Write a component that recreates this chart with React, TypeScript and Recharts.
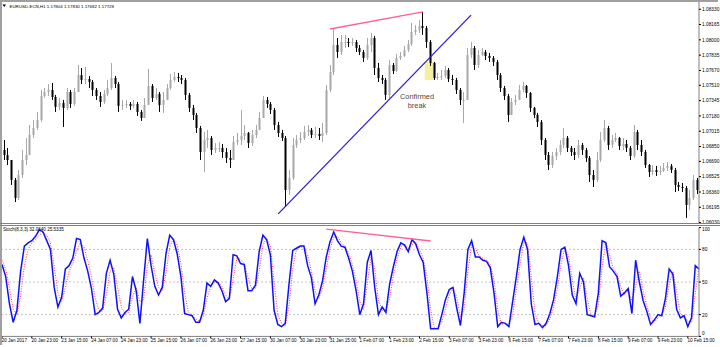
import React from 'react';
import { ComposedChart, Bar, Line, XAxis, YAxis, ReferenceLine, ReferenceArea } from 'recharts';

// EURUSD H1 chart, aggregated to 2-hour bars
const openPrice = [
  1.06813,1.06759,1.06705,1.06490,1.06296,1.06544,1.06705,1.06759,1.06975,1.07050,
  1.07136,1.07395,1.07438,1.07460,1.07384,1.07277,1.07320,1.07266,1.07438,1.07309,
  1.07438,1.07621,1.07568,1.07578,1.07546,1.07460,1.07395,1.07330,1.07417,1.07481,
  1.07589,1.07524,1.07287,1.07298,1.07309,1.07287,1.07309,1.07223,1.07158,1.07298,
  1.07503,1.07374,1.07417,1.07298,1.07352,1.07481,1.07568,1.07600,1.07589,1.07568,
  1.07406,1.07266,1.07190,1.07050,1.06791,1.06921,1.06942,1.06813,1.06835,1.06835,
  1.06791,1.06727,1.06705,1.06899,1.06921,1.06964,1.06996,1.06888,1.06975,1.07029,
  1.07158,1.07352,1.07309,1.07244,1.07082,1.06996,1.06942,1.06382,1.06511,1.06867,
  1.06921,1.06942,1.07007,1.07029,1.06975,1.06986,1.06964,1.06996,1.07460,1.07654,
  1.07945,1.07869,1.07977,1.07977,1.07966,1.07977,1.07913,1.07869,1.07805,1.07945,
  1.08020,1.07697,1.07589,1.07568,1.07406,1.07729,1.07665,1.07805,1.07826,1.07891,
  1.07956,1.08085,1.08107,1.08150,1.08128,1.07977,1.07751,1.07589,1.07600,1.07611,
  1.07675,1.07578,1.07568,1.07460,1.07352,1.07352,1.07837,1.07913,1.07729,1.07837,
  1.07869,1.07826,1.07805,1.07762,1.07621,1.07481,1.07395,1.07190,1.07330,1.07352,
  1.07460,1.07503,1.07427,1.07266,1.07190,1.07115,1.06921,1.06759,1.06651,1.06748,
  1.06791,1.06867,1.06942,1.06835,1.06791,1.06759,1.06867,1.06813,1.06727,1.06543,
  1.06490,1.06705,1.06921,1.07050,1.06867,1.06921,1.06942,1.06856,1.06878,1.06835,
  1.06748,1.07007,1.06867,1.06791,1.06651,1.06576,1.06597,1.06576,1.06587,1.06619,
  1.06641,1.06597,1.06436,1.06414,1.06403,1.06220,1.06296,1.06490,
];
const highPrice = [
  1.06921,1.06835,1.06705,1.06511,1.06597,1.06813,1.06942,1.07082,1.07136,1.07223,
  1.07460,1.07481,1.07524,1.07535,1.07406,1.07374,1.07352,1.07481,1.07460,1.07481,
  1.07729,1.07697,1.07708,1.07611,1.07568,1.07481,1.07438,1.07460,1.07568,1.07751,
  1.07611,1.07546,1.07352,1.07352,1.07330,1.07352,1.07330,1.07244,1.07374,1.07686,
  1.07524,1.07481,1.07438,1.07438,1.07524,1.07632,1.07654,1.07643,1.07621,1.07589,
  1.07427,1.07298,1.07212,1.07072,1.07007,1.07029,1.06964,1.06888,1.06899,1.06878,
  1.06835,1.06813,1.06964,1.06996,1.07244,1.07082,1.07007,1.07029,1.07082,1.07223,
  1.07395,1.07384,1.07330,1.07266,1.07115,1.07029,1.06964,1.06597,1.06942,1.06975,
  1.07007,1.07072,1.07082,1.07050,1.07061,1.07050,1.07104,1.07514,1.07729,1.08117,
  1.08020,1.08053,1.08053,1.08020,1.08020,1.07999,1.07945,1.07891,1.08020,1.08074,
  1.08042,1.07751,1.07621,1.07589,1.07783,1.07751,1.07848,1.07869,1.07934,1.07999,
  1.08182,1.08160,1.08214,1.08301,1.08150,1.07999,1.07762,1.07643,1.07675,1.07719,
  1.07697,1.07621,1.07589,1.07481,1.07438,1.07913,1.07977,1.07934,1.07891,1.07913,
  1.07891,1.07859,1.07826,1.07783,1.07643,1.07503,1.07417,1.07374,1.07406,1.07514,
  1.07546,1.07514,1.07438,1.07277,1.07212,1.07136,1.06942,1.06791,1.06791,1.06835,
  1.06921,1.07050,1.06964,1.06856,1.06835,1.06921,1.06888,1.06835,1.06748,1.06597,
  1.06791,1.07007,1.07136,1.07072,1.06975,1.06996,1.06953,1.06942,1.06921,1.06856,
  1.07082,1.07029,1.06921,1.06813,1.06662,1.06651,1.06641,1.06641,1.06673,1.06684,
  1.06662,1.06619,1.06468,1.06457,1.06425,1.06382,1.06543,1.06511,
];
const lowPrice = [
  1.06705,1.06651,1.06436,1.06252,1.06274,1.06511,1.06651,1.06759,1.06942,1.07029,
  1.07115,1.07374,1.07395,1.07352,1.07223,1.07244,1.07061,1.07244,1.07266,1.07287,
  1.07438,1.07524,1.07524,1.07481,1.07395,1.07352,1.07277,1.07309,1.07395,1.07460,
  1.07481,1.07223,1.07244,1.07266,1.07244,1.07266,1.07180,1.07126,1.07158,1.07298,
  1.07330,1.07352,1.07223,1.07212,1.07352,1.07460,1.07546,1.07546,1.07524,1.07352,
  1.07223,1.07136,1.06996,1.06705,1.06576,1.06835,1.06759,1.06781,1.06791,1.06727,
  1.06673,1.06619,1.06705,1.06867,1.06867,1.06921,1.06835,1.06856,1.06942,1.07093,
  1.07158,1.07266,1.07201,1.07029,1.06953,1.06910,1.06199,1.06328,1.06490,1.06835,
  1.06888,1.06921,1.06964,1.06942,1.06942,1.06921,1.06899,1.06975,1.07438,1.07621,
  1.07805,1.07837,1.07913,1.07923,1.07934,1.07869,1.07837,1.07762,1.07783,1.07869,
  1.07621,1.07546,1.07524,1.07352,1.07374,1.07632,1.07654,1.07783,1.07816,1.07869,
  1.07934,1.08053,1.08074,1.08053,1.07913,1.07719,1.07568,1.07568,1.07568,1.07589,
  1.07546,1.07514,1.07417,1.07298,1.07104,1.07352,1.07805,1.07675,1.07697,1.07826,
  1.07783,1.07762,1.07719,1.07568,1.07438,1.07352,1.07115,1.07190,1.07298,1.07352,
  1.07438,1.07374,1.07223,1.07158,1.07061,1.06867,1.06705,1.06597,1.06619,1.06705,
  1.06759,1.06835,1.06791,1.06748,1.06705,1.06727,1.06759,1.06684,1.06468,1.06414,
  1.06468,1.06684,1.06899,1.06813,1.06835,1.06899,1.06813,1.06813,1.06791,1.06705,
  1.06727,1.06813,1.06748,1.06619,1.06522,1.06543,1.06533,1.06543,1.06576,1.06587,
  1.06565,1.06360,1.06371,1.06360,1.06080,1.06166,1.06274,1.06339,
];
const closePrice = [
  1.06759,1.06705,1.06490,1.06296,1.06544,1.06705,1.06759,1.06975,1.07050,1.07136,
  1.07395,1.07438,1.07460,1.07384,1.07277,1.07320,1.07266,1.07438,1.07309,1.07438,
  1.07621,1.07568,1.07578,1.07546,1.07460,1.07395,1.07330,1.07417,1.07481,1.07589,
  1.07524,1.07287,1.07298,1.07309,1.07287,1.07309,1.07223,1.07158,1.07298,1.07503,
  1.07374,1.07417,1.07298,1.07352,1.07481,1.07568,1.07600,1.07589,1.07568,1.07406,
  1.07266,1.07190,1.07050,1.06791,1.06921,1.06942,1.06813,1.06835,1.06835,1.06791,
  1.06727,1.06705,1.06899,1.06921,1.06964,1.06996,1.06888,1.06975,1.07029,1.07158,
  1.07352,1.07309,1.07244,1.07082,1.06996,1.06942,1.06382,1.06511,1.06867,1.06921,
  1.06942,1.07007,1.07029,1.06975,1.06986,1.06964,1.06996,1.07460,1.07654,1.07945,
  1.07869,1.07977,1.07977,1.07966,1.07977,1.07913,1.07869,1.07805,1.07945,1.08020,
  1.07697,1.07589,1.07568,1.07406,1.07729,1.07665,1.07805,1.07826,1.07891,1.07956,
  1.08085,1.08107,1.08150,1.08128,1.07977,1.07751,1.07589,1.07600,1.07611,1.07675,
  1.07578,1.07568,1.07460,1.07352,1.07352,1.07837,1.07913,1.07729,1.07837,1.07869,
  1.07826,1.07805,1.07762,1.07621,1.07481,1.07395,1.07190,1.07330,1.07352,1.07460,
  1.07503,1.07427,1.07266,1.07190,1.07115,1.06921,1.06759,1.06651,1.06748,1.06791,
  1.06867,1.06942,1.06835,1.06791,1.06759,1.06867,1.06813,1.06727,1.06543,1.06490,
  1.06705,1.06921,1.07050,1.06867,1.06921,1.06942,1.06856,1.06878,1.06835,1.06748,
  1.07007,1.06867,1.06791,1.06651,1.06576,1.06597,1.06576,1.06587,1.06619,1.06641,
  1.06597,1.06436,1.06414,1.06403,1.06220,1.06296,1.06490,1.06382,
];

// Stochastic (8,3,3): %K main line and %D signal line
const stochK = [
  66,55,30,13,24,60,83,86,88,92, 98,96,88,80,45,27,36,62,65,72,
  90,89,72,60,44,20,22,26,58,70, 57,25,17,22,25,55,42,12,52,90,
  65,46,38,45,76,93,89,76,55,21, 20,19,13,13,24,49,46,52,49,42,
  32,35,75,74,67,66,42,42,47,78, 93,89,75,24,11,9,12,48,79,81,
  83,83,65,54,30,38,51,73,87,96, 88,83,82,72,60,42,20,30,68,79,
  45,20,27,22,48,64,78,86,84,78, 89,85,75,68,40,7,7,7,20,34,
  43,45,26,10,40,80,88,73,73,70, 69,63,40,9,13,12,9,32,55,80,
  91,80,30,11,12,8,12,21,34,55, 80,82,65,38,30,58,50,20,19,18,
  40,88,86,64,60,55,37,40,44,21, 70,50,33,23,11,15,20,19,35,62,
  57,25,17,19,9,17,65,62,
];
const stochD = [
  70,62,45,25,20,38,65,80,86,89, 93,96,93,86,65,40,32,45,60,67,
  78,86,82,70,55,35,24,23,38,60, 63,45,27,21,22,36,45,32,34,65,
  75,58,45,42,58,82,90,84,67,40, 22,20,16,14,18,35,46,49,50,46,
  38,34,52,72,71,67,54,44,44,60, 84,90,83,50,20,12,10,28,62,80,
  82,83,75,60,42,35,44,62,80,91, 92,86,83,77,66,51,32,25,48,73,
  62,33,24,24,35,56,71,82,85,81, 84,87,80,72,55,24,8,7,13,26,
  38,44,36,18,25,60,84,81,74,72, 70,66,52,25,11,12,11,20,43,67,
  86,86,55,21,12,10,10,16,27,44, 67,81,74,52,34,44,54,35,20,19,
  29,64,87,75,62,58,46,38,42,33, 46,60,42,28,17,13,17,20,27,48,
  60,41,21,18,14,13,40,63,
];

const timeLabels = [
  '20 Jan 2017', '20 Jan 23:00', '23 Jan 15:00', '24 Jan 07:00', '24 Jan 23:00', '25 Jan 15:00',
  '26 Jan 07:00', '26 Jan 23:00', '27 Jan 15:00', '30 Jan 07:00', '30 Jan 23:00', '31 Jan 15:00',
  '1 Feb 07:00', '1 Feb 23:00', '2 Feb 15:00', '3 Feb 07:00', '3 Feb 23:00', '6 Feb 15:00',
  '7 Feb 07:00', '7 Feb 23:00', '8 Feb 15:00', '9 Feb 07:00', '9 Feb 23:00', '10 Feb 15:00',
];
const labelBarIndex = [
  0, 8, 16, 24, 32, 40, 48, 56, 64, 72, 80, 88, 96, 104, 112, 120, 128, 136, 144, 152, 160, 168, 176, 184,
];
const priceTicks = [
  1.0833, 1.08165, 1.08, 1.07835, 1.0767, 1.0751, 1.07345, 1.0718, 1.07015, 1.0685, 1.0669, 1.06525, 1.0636, 1.06195, 1.0603,
];
const stochTicks = [0, 20, 50, 80, 100];
const stochLevels = [20, 50, 80];

const headerText = 'EURUSD-ECN,H1  1.17804 1.17830 1.17682 1.17728';
const stochTitle = 'Stoch(8,3,3) 32.0640 25.5335';

const data = closePrice.map((c, i) => ({
  i,
  open: openPrice[i],
  high: highPrice[i],
  low: lowPrice[i],
  close: c,
  range: [lowPrice[i], highPrice[i]],
  k: stochK[i],
  d: stochD[i],
}));

const FONT = '"Liberation Sans", Arial, sans-serif';
const AXIS = '#808080';

const renderCandle = (props: any) => {
  const { x, y, width, height, payload } = props;
  if (x == null || y == null) return <g />;
  const top = Math.min(y, y + height);
  const bottom = Math.max(y, y + height);
  const span = payload.high - payload.low || 1e-9;
  const h = bottom - top;
  const yO = top + ((payload.high - payload.open) / span) * h;
  const yC = top + ((payload.high - payload.close) / span) * h;
  const up = payload.close >= payload.open;
  const color = up ? '#a8a8a8' : '#000000';
  const cx = Math.round(x + width / 2);
  return (
    <g>
      <line x1={cx + 0.5} x2={cx + 0.5} y1={top} y2={bottom} stroke={color} strokeWidth={1} />
      <rect x={cx - 0.5} y={Math.min(yO, yC)} width={2} height={Math.max(1, Math.abs(yC - yO))} fill={color} />
    </g>
  );
};

const PriceTick = (props: any) => {
  const { x, y, payload } = props;
  return (
    <text x={x} y={y + 1.7} fontSize={4.8} fill="#000" textAnchor="start" fontFamily={FONT}>
      {Number(payload.value).toFixed(5)}
    </text>
  );
};

const StochTick = (props: any) => {
  const { x, y, payload } = props;
  const v = payload.value;
  const shift = v === 100 ? 1.7 : v === 0 ? -3.1 : 0.4;
  return (
    <text x={x} y={y + shift + 1.7} fontSize={4.8} fill="#000" textAnchor="start" fontFamily={FONT}>
      {v}
    </text>
  );
};

const TimeTick = (props: any) => {
  const { x, y, payload } = props;
  const idx = labelBarIndex.indexOf(payload.value);
  return (
    <text x={x - 0.3} y={y + 3.6} fontSize={4.6} fill="#000" textAnchor="start" fontFamily={FONT}>
      {idx >= 0 ? timeLabels[idx] : ''}
    </text>
  );
};

export default function App() {
  return (
    <div style={{ position: 'absolute', left: 0, top: 0, width: 720, height: 347, background: '#ffffff', overflow: 'hidden' }}>
      {/* price panel */}
      <div style={{ position: 'absolute', left: 0, top: 0 }}>
        <ComposedChart width={720} height={226} data={data} margin={{ top: 2, right: 0, bottom: 2, left: 2 }}>
          <XAxis dataKey="i" type="category" hide />
          <YAxis
            orientation="right"
            width={21}
            type="number"
            domain={[1.06015, 1.08408]}
            allowDataOverflow
            ticks={priceTicks}
            interval={0}
            tick={<PriceTick />}
            tickSize={2}
            tickMargin={1}
            tickLine={{ stroke: '#000' }}
            axisLine={{ stroke: AXIS }}
          />
          <ReferenceArea x1={114} x2={116} y1={1.07568} y2={1.07762} fill="#f4f0a0" fillOpacity={1} stroke="none" />
          <Bar dataKey="range" shape={renderCandle} barSize={3} isAnimationActive={false} />
          <ReferenceLine segment={[{ x: 74, y: 1.06124 }, { x: 126, y: 1.08267 }]} stroke="#2b1fd8" strokeWidth={1.3} />
          <ReferenceLine segment={[{ x: 88, y: 1.08117 }, { x: 113, y: 1.08301 }]} stroke="#ff5f9c" strokeWidth={1.3} />
        </ComposedChart>
      </div>

      {/* stochastic panel */}
      <div style={{ position: 'absolute', left: 0, top: 226 }}>
        <ComposedChart width={720} height={121} data={data} margin={{ top: 1.6, right: 0, bottom: 0, left: 2 }}>
          <XAxis
            dataKey="i"
            type="category"
            ticks={labelBarIndex}
            interval={0}
            height={10.6}
            tick={<TimeTick />}
            tickSize={2}
            tickMargin={0}
            tickLine={{ stroke: '#000' }}
            axisLine={{ stroke: AXIS }}
          />
          <YAxis
            orientation="right"
            width={21}
            type="number"
            domain={[0, 100]}
            ticks={stochTicks}
            interval={0}
            tick={<StochTick />}
            tickSize={2}
            tickMargin={1}
            tickLine={{ stroke: '#000' }}
            axisLine={{ stroke: AXIS }}
          />
          {stochLevels.map((lv) => (
            <ReferenceLine key={lv} y={lv} stroke="#c4c4c4" strokeDasharray="2 2" />
          ))}
          <Line dataKey="d" type="linear" stroke="#ff3b3b" strokeWidth={1} strokeDasharray="1 1.5" dot={false} isAnimationActive={false} />
          <Line dataKey="k" type="linear" stroke="#1010ff" strokeWidth={1.5} dot={false} isAnimationActive={false} />
          <ReferenceLine segment={[{ x: 87, y: 98.6 }, { x: 115, y: 87.7 }]} stroke="#ff5f9c" strokeWidth={1.3} ifOverflow="visible" />
        </ComposedChart>
      </div>

      {/* panel frames */}
      <div style={{ position: 'absolute', left: 0, top: 0, width: 718, height: 345, borderTop: '2px solid #a0a0a0', borderLeft: '2px solid #a0a0a0', boxSizing: 'border-box', pointerEvents: 'none' }} />
      <div style={{ position: 'absolute', left: 0, top: 223, width: 720, height: 3, borderTop: '1px solid #808080', borderBottom: '1px solid #808080', boxSizing: 'border-box', pointerEvents: 'none' }} />

      {/* text overlays */}
      <svg width={720} height={347} style={{ position: 'absolute', left: 0, top: 0, pointerEvents: 'none' }}>
        <polygon points="2.5,4.5 6,4.5 4.25,7" fill="#000" />
        <text x={9.5} y={7.8} fontSize={4.4} fill="#000" fontFamily={FONT}>{headerText}</text>
        <text x={3} y={231.2} fontSize={4.6} fill="#000" fontFamily={FONT}>{stochTitle}</text>
        <text x={417} y={98.5} fontSize={7.4} fill="#4a4a4a" textAnchor="middle" fontFamily={FONT}>Confirmed</text>
        <text x={417} y={107.5} fontSize={7.4} fill="#4a4a4a" textAnchor="middle" fontFamily={FONT}>break</text>
      </svg>
    </div>
  );
}
